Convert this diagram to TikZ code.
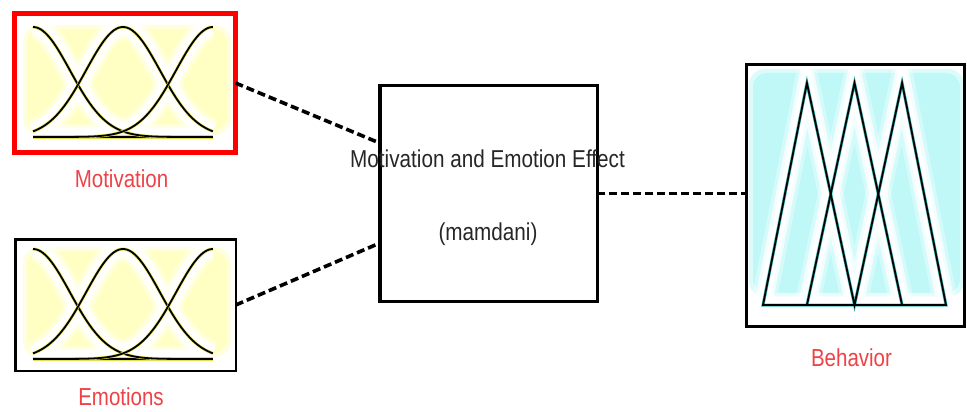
\documentclass[tikz,border=0pt]{standalone}
\usepackage{fontspec}
\setmainfont{Liberation Sans}
\usetikzlibrary{calc}
\definecolor{mfyellow}{RGB}{255,255,196}
\definecolor{mfcyan}{RGB}{192,248,248}
\definecolor{labelred}{RGB}{238,66,70}
\definecolor{yellowedge}{RGB}{225,225,80}
\definecolor{tealedge}{RGB}{60,185,185}

\begin{document}
\begin{tikzpicture}[x=1pt,y=-1pt,
  block/.style={draw, inner sep=0pt, outer sep=0pt},
  link/.style={draw, line width=3.6pt, dash pattern=on 8pt off 4pt},
  lbl/.style={text=labelred, inner sep=0pt, font=\fontsize{20.5}{24}\selectfont},
  fistext/.style={text=black!85, inner sep=0pt, font=\fontsize{20.7}{24}\selectfont},
  haloA/.style={draw=white, line width=25pt, opacity=0.35},
  haloB/.style={draw=white, line width=18pt, opacity=0.7},
  haloC/.style={draw=white, line width=12pt}
]
\useasboundingbox (0,0) rectangle (967,412);

% ---------- input membership functions (gaussian) ----------
\foreach \top in {27, 249}{
  \fill[mfyellow!55, rounded corners=16pt] (23,\top-2) rectangle (231,\top+108);
  \fill[mfyellow, rounded corners=14pt] (27,\top+2) rectangle (227,\top+104);
  \begin{scope}[shift={(33,\top+110)}, x=180pt, y=110pt]
    \foreach \hs in {haloA,haloB,haloC}{
      \foreach \c in {0,0.5,1}{
        \draw[\hs] plot[domain=0:1, samples=70, smooth] (\x,{exp(-0.5*((\x-\c)/0.205)^2)});
      }
      \draw[\hs] (0,0) -- (1,0);
    }
    \draw[yellowedge, line width=3.4pt] (0,0) -- (1,0);
    \draw[black, line width=2.6pt] (0,0) -- (1,0);
    \foreach \c in {0,0.5,1}{
      \draw[yellowedge, line width=3pt] plot[domain=0:1, samples=70, smooth] (\x,{exp(-0.5*((\x-\c)/0.205)^2)});
      \draw[black, line width=1.8pt] plot[domain=0:1, samples=70, smooth] (\x,{exp(-0.5*((\x-\c)/0.205)^2)});
    }
  \end{scope}
}

% ---------- output membership functions (triangular) ----------
\fill[mfcyan!55, rounded corners=16pt] (749,69) rectangle (964,297);
\fill[mfcyan, rounded corners=14pt] (753,73) rectangle (960,293);
\begin{scope}[shift={(763,305)}, x=183pt, y=222pt]
  \foreach \hs in {haloA,haloB,haloC}{
    \draw[\hs] (0,0) -- (0.24,1) -- (0.5,0) -- (0.76,1) -- (1,0) -- cycle;
    \draw[\hs] (0.24,0) -- (0.5,1) -- (0.76,0);
  }
  \foreach \w/\col in {3pt/tealedge, 1.8pt/black}{
    \draw[\col, line width=\w, line join=miter] (0,0) -- (0.24,1) -- (0.5,0) -- (0.76,1) -- (1,0) -- cycle;
    \draw[\col, line width=\w, line join=miter] (0.24,0) -- (0.5,1) -- (0.76,0);
  }
\end{scope}

% ---------- blocks ----------
\node[block, draw=red, line width=5pt, minimum width=221pt, minimum height=139pt] (mot) at (125,83) {};
\node[block, line width=2.5pt, minimum width=220.5pt, minimum height=131.5pt] (emo) at (125.5,305) {};
\node[block, line width=3.5pt, minimum width=217.5pt, minimum height=215.5pt] (fis) at (488.5,193.5) {};
\node[block, line width=3pt, minimum width=218pt, minimum height=262pt] (beh) at (855.5,195.5) {};

% ---------- labels ----------
\node[lbl] (motlbl) at (121.5,179) {\scalebox{1}[1.2]{Motivation}};
\node[lbl] (emolbl) at (121,397) {\scalebox{1}[1.2]{Emotions}};
\node[lbl] (behlbl) at (851.5,357.5) {\scalebox{1}[1.2]{Behavior}};
\node[fistext] (fistitle) at (487.5,158.5) {\scalebox{1}[1.18]{Motivation and Emotion Effect}};
\node[fistext] (fistype) at (488,234) {\scalebox{1}[1.18]{(mamdani)}};

% ---------- connections ----------
\coordinate (fisinA) at ($(fis.north west)!0.266!(fis.south west)$);
\coordinate (fisinB) at ($(fis.north west)!0.73!(fis.south west)$);
\draw[link] (mot.east) -- (fisinA);
\draw[link] (emo.east) -- (fisinB);
\draw[link] (fis.east) -- (fis.east -| beh.west);
\end{tikzpicture}
\end{document}
